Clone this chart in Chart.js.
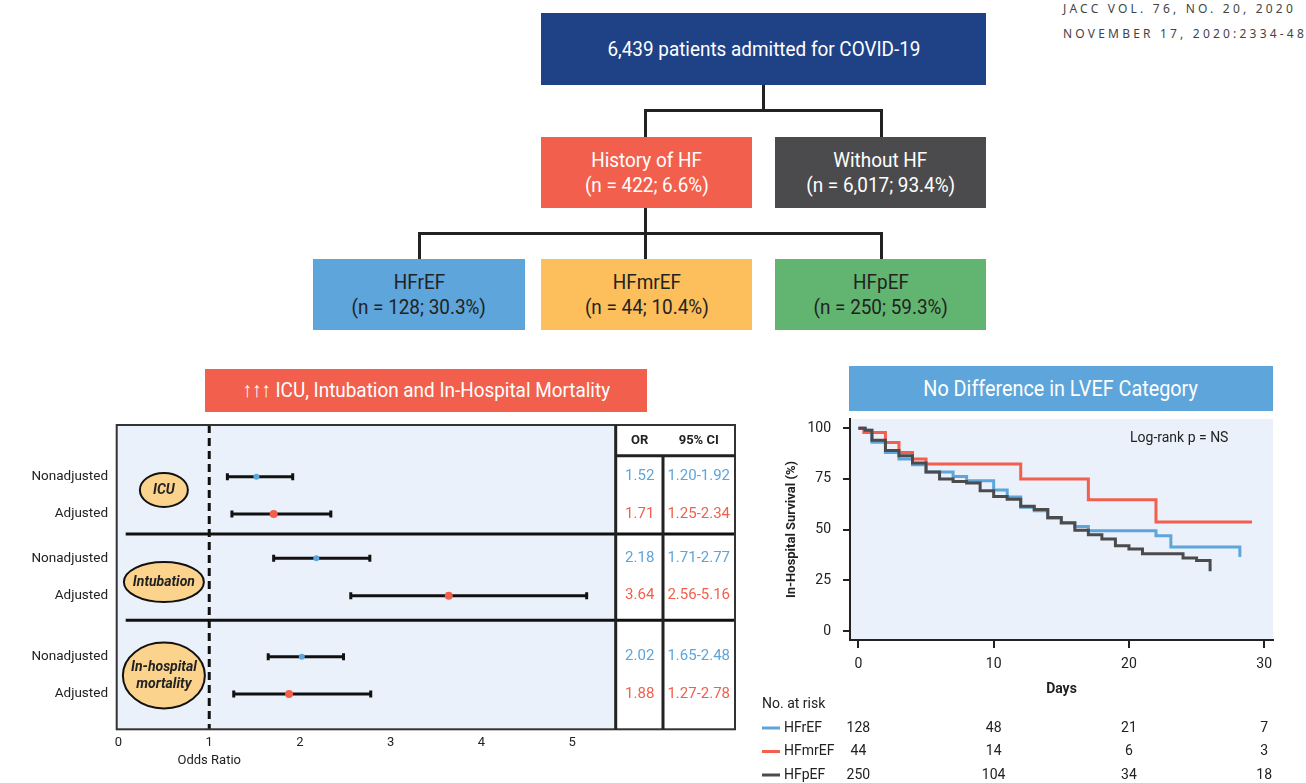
<!DOCTYPE html>
<html>
<head>
<meta charset="utf-8">
<script src="https://cdn.jsdelivr.net/npm/chart.js@4.4.1/dist/chart.umd.min.js"></script>
<style>
  body { margin: 0; width: 1306px; height: 783px; position: relative; background: #fff; overflow: hidden; font-family: Roboto, "Noto Sans", sans-serif; }
  .box { position: absolute; display: flex; flex-direction: column; align-items: center; justify-content: center;
         font-family: Roboto, sans-serif; font-size: 21px; line-height: 25px; color: #fff; text-align: center; }
  .box span { display: inline-block; white-space: nowrap; transform: scaleX(0.9); }
  .ln { position: absolute; background: #222; }
  .journal { position: absolute; left: 1063px; font-family: "Noto Sans", sans-serif; font-size: 12px; letter-spacing: 3.2px; color: #444; white-space: nowrap; }
  canvas { position: absolute; }
</style>
</head>
<body>
<div class="journal" style="top:0px">JACC VOL. 76, NO. 20, 2020</div>
<div class="journal" style="top:25px">NOVEMBER 17, 2020:2334-48</div>

<!-- flowchart -->
<div class="box" style="left:541px;top:13px;width:445px;height:72px;background:#1F4287;"><span>6,439 patients admitted for COVID-19</span></div>
<div class="ln" style="left:762px;top:85px;width:3px;height:26px;"></div>
<div class="ln" style="left:644px;top:109px;width:239px;height:3px;"></div>
<div class="ln" style="left:644px;top:109px;width:3px;height:28px;"></div>
<div class="ln" style="left:880px;top:109px;width:3px;height:28px;"></div>
<div class="box" style="left:541px;top:137px;width:211px;height:71px;background:#F25F4C;"><span>History of HF</span><span>(n = 422; 6.6%)</span></div>
<div class="box" style="left:775px;top:137px;width:211px;height:71px;background:#4B4B4D;"><span>Without HF</span><span>(n = 6,017; 93.4%)</span></div>
<div class="ln" style="left:644px;top:208px;width:3px;height:51px;"></div>
<div class="ln" style="left:418px;top:232px;width:465px;height:3px;"></div>
<div class="ln" style="left:418px;top:232px;width:3px;height:27px;"></div>
<div class="ln" style="left:880px;top:232px;width:3px;height:27px;"></div>
<div class="box" style="left:313px;top:259px;width:212px;height:71px;background:#5DA5DA;color:#222;"><span>HFrEF</span><span>(n = 128; 30.3%)</span></div>
<div class="box" style="left:541px;top:259px;width:211px;height:71px;background:#FDBF5B;color:#222;"><span>HFmrEF</span><span>(n = 44; 10.4%)</span></div>
<div class="box" style="left:775px;top:259px;width:211px;height:71px;background:#62B570;color:#222;"><span>HFpEF</span><span>(n = 250; 59.3%)</span></div>

<!-- banners -->
<div class="box" style="left:205px;top:369px;width:442px;height:43px;background:#F25F4C;"><span>↑↑↑ ICU, Intubation and In-Hospital Mortality</span></div>
<div class="box" style="left:849px;top:366px;width:424px;height:45px;background:#5DA5DA;font-size:22px;"><span>No Difference in LVEF Category</span></div>

<canvas id="forest" width="740" height="368" style="left:0px;top:415px;"></canvas>
<canvas id="km" width="556" height="373" style="left:750px;top:410px;"></canvas>

<script>
// ---- forest plot data ----
const outcomes = ['ICU', 'Intubation', 'In-hospital mortality'];
const rowLabels = ['Nonadjusted', 'Adjusted', 'Nonadjusted', 'Adjusted', 'Nonadjusted', 'Adjusted'];
const orValues = [1.52, 1.71, 2.18, 3.64, 2.02, 1.88];
const ciLow = [1.20, 1.25, 1.71, 2.56, 1.65, 1.27];
const ciHigh = [1.92, 2.34, 2.77, 5.16, 2.48, 2.78];
const orTicks = [0, 1, 2, 3, 4, 5];

// ---- survival data (day, % surviving after the step) ----
const daysHFrEF = [0, 0.5, 1, 2, 3, 4, 5, 7, 8, 10, 11, 12, 13, 14, 15, 16, 17, 22, 23.1, 28.2];
const survHFrEF = [100, 99, 93, 88, 84.8, 82, 78.4, 76.2, 74.1, 69.5, 66.1, 61, 59.3, 55.7, 53.6, 51.6, 49.5, 47, 41.5, 36.6];
const daysHFmrEF = [0, 0.4, 2, 3, 4, 5, 12, 17, 22, 29.1];
const survHFmrEF = [100, 97.8, 92.9, 88, 84.8, 82.3, 75, 64.7, 53.8, 53.8];
const daysHFpEF = [0, 0.5, 1, 2, 3, 4, 5, 6, 7, 8, 9, 10, 11, 12, 13, 14, 15, 16, 17, 18, 19, 20, 21, 24, 25, 26];
const survHFpEF = [100, 99, 94, 89, 86.4, 82.8, 78.4, 75, 73.7, 73, 69.2, 66.4, 65, 61.5, 60, 56, 53.3, 49.7, 47.5, 45.4, 42.1, 40.5, 38.2, 36.1, 34.8, 29.5];
const kmDayTicks = [0, 10, 20, 30];
const kmSurvTicks = [0, 25, 50, 75, 100];
const riskGroups = ['HFrEF', 'HFmrEF', 'HFpEF'];
const riskHFrEF = [128, 48, 21, 7];
const riskHFmrEF = [44, 14, 6, 3];
const riskHFpEF = [250, 104, 34, 18];

const BLUE = '#5DA5DA', RED = '#F25F4C', DARK = '#4B4B4D', INK = '#222';

// layout of the forest rows (vertical units = px from top of box)
const ROW_Y = [51.7, 89, 133.3, 170.7, 231.7, 269];
const SECTION_LINES = [109, 195.3];
const ELLIPSES = [{ cy: 65, rx: 24, ry: 17 }, { cy: 157, rx: 40, ry: 20 }, { cy: 250.5, rx: 41, ry: 33 }];

// stop Chart.js from reserving room for overhanging tick labels
const noPad = s => { s.paddingTop = 0; s.paddingBottom = 0; s.paddingLeft = 0; s.paddingRight = 0; };

const forestDeco = {
  id: 'forestDeco',
  beforeDraw(chart) {
    const { ctx, chartArea: a } = chart;
    ctx.save();
    ctx.fillStyle = '#EAF1FA';
    ctx.fillRect(a.left, a.top, a.right - a.left, a.bottom - a.top);
    ctx.restore();
  },
  beforeDatasetsDraw(chart) {
    const { ctx, chartArea: a, scales: { x, y } } = chart;
    const tRight = a.right + 119.3;
    ctx.save();
    // reference line at OR = 1
    const refX = x.getPixelForValue(1);
    ctx.strokeStyle = '#111';
    ctx.lineWidth = 3;
    ctx.setLineDash([8, 5]);
    ctx.beginPath();
    ctx.moveTo(refX, a.top);
    ctx.lineTo(refX, a.bottom);
    ctx.stroke();
    ctx.setLineDash([]);
    // section separators
    SECTION_LINES.forEach(v => {
      ctx.beginPath();
      ctx.moveTo(a.left + 9, y.getPixelForValue(v));
      ctx.lineTo(tRight, y.getPixelForValue(v));
      ctx.stroke();
    });
    // confidence intervals
    ctx.lineWidth = 3;
    orValues.forEach((_, i) => {
      const py = y.getPixelForValue(ROW_Y[i]);
      const x0 = x.getPixelForValue(ciLow[i]), x1 = x.getPixelForValue(ciHigh[i]);
      ctx.beginPath();
      ctx.moveTo(x0, py); ctx.lineTo(x1, py);
      ctx.moveTo(x0, py - 3.5); ctx.lineTo(x0, py + 3.5);
      ctx.moveTo(x1, py - 3.5); ctx.lineTo(x1, py + 3.5);
      ctx.stroke();
    });
    // outcome ellipses
    ctx.lineWidth = 2;
    outcomes.forEach((name, i) => {
      const e = ELLIPSES[i];
      const cx = x.getPixelForValue(0.5), cy = y.getPixelForValue(e.cy);
      ctx.beginPath();
      ctx.ellipse(cx, cy, e.rx, e.ry, 0, 0, Math.PI * 2);
      ctx.fillStyle = '#FCD38D';
      ctx.fill();
      ctx.stroke();
      ctx.fillStyle = INK;
      ctx.font = 'italic bold 14px Roboto';
      ctx.textAlign = 'center';
      ctx.textBaseline = 'middle';
      const parts = name === 'In-hospital mortality' ? ['In-hospital', 'mortality'] : [name];
      parts.forEach((t, k) => ctx.fillText(t, cx, cy + (k - (parts.length - 1) / 2) * 17));
    });
    ctx.restore();
  },
  afterDraw(chart) {
    const { ctx, chartArea: a, scales: { x, y } } = chart;
    const tRight = a.right + 119.3, tDiv = a.right + 47.3, hLine = a.top + 30.7;
    ctx.save();
    ctx.strokeStyle = '#333';
    ctx.lineWidth = 2;
    ctx.strokeRect(a.left, a.top, tRight - a.left, a.bottom - a.top);
    ctx.strokeStyle = INK;
    ctx.lineWidth = 3;
    ctx.beginPath();
    ctx.moveTo(a.right, a.top); ctx.lineTo(a.right, a.bottom);
    ctx.moveTo(a.right, hLine); ctx.lineTo(tRight, hLine);
    ctx.moveTo(tDiv, hLine); ctx.lineTo(tDiv, a.bottom);
    ctx.stroke();
    ctx.textAlign = 'center';
    ctx.textBaseline = 'middle';
    ctx.fillStyle = INK;
    ctx.font = 'bold 13px Roboto';
    ctx.fillText('OR', a.right + 24, a.top + 15.5);
    ctx.fillText('95% CI', a.right + 83, a.top + 15.5);
    ctx.font = '15px Roboto';
    orValues.forEach((v, i) => {
      const py = y.getPixelForValue(ROW_Y[i]);
      ctx.fillStyle = i % 2 === 0 ? BLUE : RED;
      ctx.fillText(v.toFixed(2), a.right + 24, py);
      ctx.fillText(ciLow[i].toFixed(2) + '-' + ciHigh[i].toFixed(2), a.right + 83, py);
    });
    ctx.fillStyle = INK;
    ctx.font = '13px Roboto';
    ctx.fillText('Odds Ratio', x.getPixelForValue(1), a.bottom + 31);
    ctx.restore();
  }
};

new Chart(document.getElementById('forest'), {
  type: 'scatter',
  data: {
    datasets: [
      {
        label: 'Nonadjusted',
        data: orValues.map((v, i) => ({ x: v, y: ROW_Y[i] })).filter((_, i) => i % 2 === 0),
        backgroundColor: BLUE, borderColor: BLUE, pointRadius: 3, borderWidth: 0
      },
      {
        label: 'Adjusted',
        data: orValues.map((v, i) => ({ x: v, y: ROW_Y[i] })).filter((_, i) => i % 2 === 1),
        backgroundColor: RED, borderColor: RED, pointRadius: 4, borderWidth: 0
      }
    ]
  },
  options: {
    responsive: false,
    devicePixelRatio: 1,
    animation: false,
    layout: { padding: { left: 0, top: 10, right: 124.3, bottom: 0 } },
    plugins: { legend: { display: false }, tooltip: { enabled: false } },
    scales: {
      x: {
        type: 'linear', min: -0.02, max: 5.48,
        afterBuildTicks: s => { s.ticks = orTicks.map(v => ({ value: v })); },
        afterFit: s => { s.height = 53.7; noPad(s); },
        grid: { display: false, drawTicks: false },
        border: { display: false },
        ticks: { color: INK, font: { family: 'Roboto', size: 13 }, padding: 6, maxRotation: 0 }
      },
      y: {
        type: 'linear', reverse: true, min: 0, max: 304.3,
        afterBuildTicks: s => { s.ticks = ROW_Y.map(v => ({ value: v })); },
        afterFit: s => { s.width = 116.7; noPad(s); },
        grid: { display: false, drawTicks: false },
        border: { display: false },
        ticks: { color: INK, font: { family: 'Roboto', size: 13.5 }, padding: 8.7, callback: (v, i) => rowLabels[i] }
      }
    }
  },
  plugins: [forestDeco]
});

// ---- Kaplan-Meier ----
const kmDeco = {
  id: 'kmDeco',
  beforeDraw(chart) {
    const { ctx, chartArea: a } = chart;
    ctx.save();
    ctx.fillStyle = '#EAF1FA';
    ctx.fillRect(a.left, a.top, a.right - a.left, a.bottom - a.top);
    ctx.restore();
  },
  afterDraw(chart) {
    const { ctx, chartArea: a, scales: { x } } = chart;
    ctx.save();
    ctx.fillStyle = INK;
    ctx.font = '14px Roboto';
    ctx.textBaseline = 'middle';
    ctx.textAlign = 'left';
    ctx.fillText('Log-rank p = NS', a.right - 143, a.top + 19);
    ctx.font = 'bold 14px Roboto';
    ctx.textAlign = 'center';
    ctx.fillText('Days', (a.left + a.right) / 2, 279);
    ctx.font = '14px Roboto';
    ctx.textAlign = 'left';
    ctx.fillText('No. at risk', 12, 294);
    const rows = [riskHFrEF, riskHFmrEF, riskHFpEF];
    const cols = [BLUE, RED, DARK];
    rows.forEach((r, i) => {
      const py = 318 + i * 23.5;
      ctx.strokeStyle = cols[i];
      ctx.lineWidth = 3;
      ctx.beginPath(); ctx.moveTo(12, py); ctx.lineTo(30, py); ctx.stroke();
      ctx.textAlign = 'left';
      ctx.fillText(riskGroups[i], 34, py);
      ctx.textAlign = 'center';
      r.forEach((n, k) => ctx.fillText(String(n), x.getPixelForValue(kmDayTicks[k]), py));
    });
    ctx.restore();
  }
};

const toPts = (d, s) => d.map((v, i) => ({ x: v, y: s[i] }));
const kmLine = (label, d, s, color, order) => ({
  label, data: toPts(d, s), borderColor: color, backgroundColor: color,
  borderWidth: 3, pointRadius: 0, stepped: true, showLine: true, fill: false, order
});

new Chart(document.getElementById('km'), {
  type: 'scatter',
  data: {
    datasets: [
      kmLine('HFrEF', daysHFrEF, survHFrEF, BLUE, 1),
      kmLine('HFmrEF', daysHFmrEF, survHFmrEF, RED, 2),
      kmLine('HFpEF', daysHFpEF, survHFpEF, DARK, 0)
    ]
  },
  options: {
    responsive: false,
    devicePixelRatio: 1,
    animation: false,
    layout: { padding: { left: 30, top: 9, right: 33, bottom: 0 } },
    plugins: { legend: { display: false }, tooltip: { enabled: false } },
    scales: {
      x: {
        type: 'linear', min: -0.62, max: 30.65,
        afterBuildTicks: s => { s.ticks = kmDayTicks.map(v => ({ value: v })); },
        afterFit: s => { s.height = 143; noPad(s); },
        grid: { drawOnChartArea: false, tickLength: 8, color: INK, lineWidth: 2 },
        border: { color: INK, width: 2 },
        ticks: { color: INK, font: { family: 'Roboto', size: 14 }, padding: 8, maxRotation: 0 }
      },
      y: {
        type: 'linear', min: -4.3, max: 104.5,
        afterBuildTicks: s => { s.ticks = kmSurvTicks.map(v => ({ value: v })); },
        afterFit: s => { s.width = 70; noPad(s); },
        grid: { drawOnChartArea: false, tickLength: 7, color: INK, lineWidth: 2 },
        border: { color: INK, width: 2 },
        ticks: { color: INK, font: { family: 'Roboto', size: 14 }, padding: 12 },
        title: { display: true, text: 'In-Hospital Survival (%)', color: INK, font: { family: 'Roboto', size: 13, weight: 'bold' } }
      }
    }
  },
  plugins: [kmDeco]
});
</script>
</body>
</html>
